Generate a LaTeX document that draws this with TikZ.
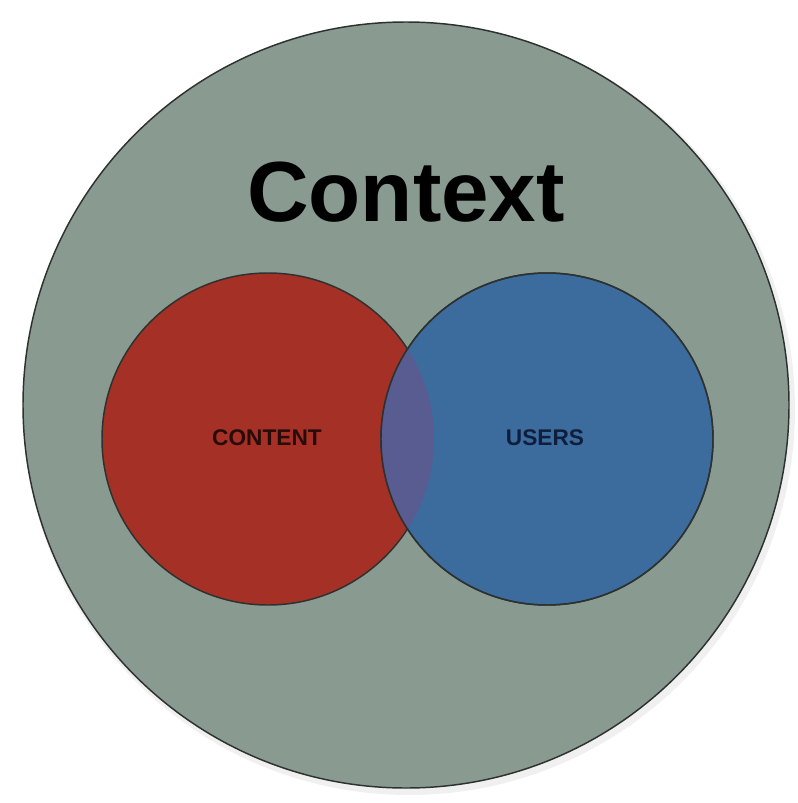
\documentclass[tikz,border=0pt]{standalone}
\usepackage{fontspec}
\setmainfont{Liberation Sans}

\definecolor{ctxgray}{RGB}{137,154,145}
\definecolor{contentred}{RGB}{165,48,37}
\definecolor{usersblue}{RGB}{60,108,158}
\definecolor{mixpurple}{RGB}{88,92,145}
\definecolor{rimgray}{RGB}{45,50,48}

\tikzset{every picture/.style={line width=0.75pt}}
\tikzset{
  disc/.style={circle, inner sep=0pt, outer sep=0pt, draw=rimgray, line width=1.1pt},
  lbl/.style={font=\bfseries\fontsize{17}{17}\selectfont}
}

\begin{document}
\begin{tikzpicture}[x=0.75pt,y=0.75pt,yscale=-1,xscale=1]
	\useasboundingbox (0,0) rectangle (797,803);

	%Shape: Circle (shadow)
	\fill [black, opacity=0.06] (409,409) circle (386) ;
	%Shape: Circle [id:ctx]
	\node (ctx) [disc, fill=ctxgray, minimum size=574.5pt] at (406,405) {};
	%Shape: Circle [id:content]
	\node (content) [disc, fill=contentred, minimum size=249pt] at (268,439) {};
	%Shape: Circle [id:users]
	\node (users) [disc, fill=usersblue, minimum size=249pt] at (547,439) {};
	%Shape: Lens (overlap)
	\begin{scope}
		\clip (content.center) circle (166) ;
		\fill [mixpurple] (users.center) circle (166) ;
	\end{scope}
	\draw [rimgray, line width=1.1pt] (users.center) circle (166) ;

	% Text Node
	\node (title) [font=\bfseries\fontsize{64}{64}\selectfont] at (406,192) {Context};
	% Text Node
	\node (contentlbl) [lbl, text={rgb,255:red,40;green,12;blue,10}] at (267,438) {CONTENT};
	% Text Node
	\node (userslbl) [lbl, text={rgb,255:red,15;green,30;blue,60}] at (545,438) {USERS};

\end{tikzpicture}
\end{document}
